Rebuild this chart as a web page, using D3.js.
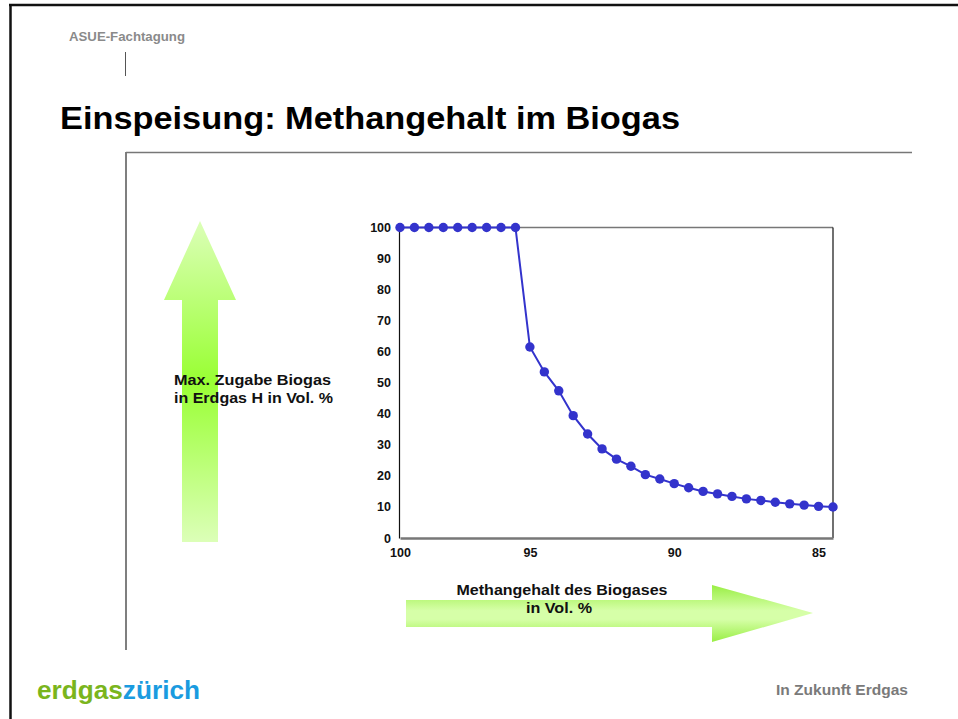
<!DOCTYPE html>
<html><head><meta charset="utf-8">
<script src="https://cdn.jsdelivr.net/npm/d3@7"></script>
<style>html,body{margin:0;padding:0;background:#fff;}svg{display:block;font-family:"Liberation Sans",Arial,Helvetica,sans-serif;}</style>
</head><body>
<script>
// Data
const categories = ["100","99.5","99","98.5","98","97.5","97","96.5","96",
  "95","94.5","94","93.5","93","92.5","92","91.5","91","90.5","90","89.5","89","88.5","88","87.5","87","86.5","86","85.5","85","84.5"];
const values = [100,100,100,100,100,100,100,100,100,
  61.5,53.5,47.4,39.4,33.5,28.7,25.4,23.1,20.4,19.0,17.5,16.2,15.0,14.2,13.4,12.6,12.1,11.5,11.0,10.6,10.2,10.0];
const xTickLabels = ["100","95","90","85"];
const xTickIndex = [0,9,19,29];
const yTicks = [0,10,20,30,40,50,60,70,80,90,100];

(function(){
const W=958,H=719;
const svg=d3.select("body").append("svg").attr("width",W).attr("height",H);

// slide frame
svg.append("line").attr("x1",10.5).attr("x2",10.5).attr("y1",4).attr("y2",H).attr("stroke","#111").attr("stroke-width",2.5);
svg.append("line").attr("x1",9).attr("x2",W).attr("y1",5).attr("y2",5).attr("stroke","#111").attr("stroke-width",2.5);

svg.append("text").attr("x",69).attr("y",41).attr("font-size",13).attr("font-weight","bold").attr("fill","#8a8a8a")
  .attr("textLength",116).attr("lengthAdjust","spacingAndGlyphs").text("ASUE-Fachtagung");
svg.append("line").attr("x1",125.5).attr("x2",125.5).attr("y1",52).attr("y2",76).attr("stroke","#555").attr("stroke-width",1);

svg.append("text").attr("x",60).attr("y",129).attr("font-size",32).attr("font-weight","bold").attr("fill","#000")
  .attr("textLength",620).attr("lengthAdjust","spacingAndGlyphs").text("Einspeisung: Methangehalt im Biogas");

// content frame lines
svg.append("line").attr("x1",126).attr("x2",126).attr("y1",152).attr("y2",650).attr("stroke","#555").attr("stroke-width",1.5);
svg.append("line").attr("x1",126).attr("x2",912).attr("y1",152.5).attr("y2",152.5).attr("stroke","#777").attr("stroke-width",1.5);

// gradients
const defs=svg.append("defs");
const g1=defs.append("linearGradient").attr("id","gUp").attr("x1",0).attr("y1",0).attr("x2",0).attr("y2",1);
g1.append("stop").attr("offset","0%").attr("stop-color","#dcffb8");
g1.append("stop").attr("offset","50%").attr("stop-color","#99ff33");
g1.append("stop").attr("offset","100%").attr("stop-color","#dcffb8");
const g2=defs.append("linearGradient").attr("id","gRight").attr("x1",0).attr("y1",0).attr("x2",0).attr("y2",1);
g2.append("stop").attr("offset","0%").attr("stop-color","#99ee44");
g2.append("stop").attr("offset","45%").attr("stop-color","#d6ffa8");
g2.append("stop").attr("offset","60%").attr("stop-color","#d6ffa8");
g2.append("stop").attr("offset","100%").attr("stop-color","#99ee44");

// up arrow
svg.append("path").attr("d","M182,542 L182,300 L164,300 L200,221 L236,300 L218,300 L218,542 Z").attr("fill","url(#gUp)");
// right arrow
svg.append("path").attr("d","M406,600 L712,600 L712,585 L813,613 L712,642 L712,627 L406,627 Z").attr("fill","url(#gRight)");

const t=(x,y,s,len,anchor)=>svg.append("text").attr("x",x).attr("y",y).attr("font-size",15.5).attr("font-weight","bold").attr("fill","#111")
  .attr("text-anchor",anchor||"start").attr("textLength",len).attr("lengthAdjust","spacingAndGlyphs").text(s);
t(174,385,"Max. Zugabe Biogas",157);
t(174,403,"in Erdgas H in Vol. %",159);
t(562,595,"Methangehalt des Biogases",211,"middle");
t(559,613,"in Vol. %",66,"middle");

// chart
const pL=400,pR=833,pT=227.5,pB=538;
const x=d3.scalePoint().domain(d3.range(categories.length)).range([pL,pR]);
const y=d3.scaleLinear().domain([0,100]).range([pB,pT]);

svg.append("line").attr("x1",pL).attr("x2",pR).attr("y1",pT).attr("y2",pT).attr("stroke","#777").attr("stroke-width",1.5);
svg.append("line").attr("x1",pR).attr("x2",pR).attr("y1",pT).attr("y2",pB).attr("stroke","#111").attr("stroke-width",1.2);

const yAxis=svg.append("g").attr("transform",`translate(${pL-1},0)`).call(d3.axisLeft(y).tickValues(yTicks).tickSize(0).tickPadding(8));
yAxis.select(".domain").attr("stroke","#111").attr("stroke-width",1.2);
yAxis.selectAll("text").attr("font-size",12.5).attr("font-weight","bold").attr("font-family","Liberation Sans,Arial,sans-serif").attr("fill","#111");

const xs=d3.scaleOrdinal().domain(xTickIndex).range(xTickLabels);
const xAxis=svg.append("g").attr("transform",`translate(0,${pB})`).call(d3.axisBottom(x).tickValues(xTickIndex).tickFormat(d=>xs(d)).tickSize(0).tickPadding(10));
xAxis.select(".domain").attr("stroke","#777").attr("stroke-width",2.5);
xAxis.selectAll("text").attr("font-size",12.5).attr("font-weight","bold").attr("font-family","Liberation Sans,Arial,sans-serif").attr("fill","#111");

const line=d3.line().x((d,i)=>x(i)).y(d=>y(d));
svg.append("path").datum(values).attr("d",line).attr("fill","none").attr("stroke","#3333cc").attr("stroke-width",2);
svg.selectAll("circle.pt").data(values).enter().append("circle").attr("class","pt")
  .attr("cx",(d,i)=>x(i)).attr("cy",d=>y(d)).attr("r",4.7).attr("fill","#3333cc");

// footer
const logo=svg.append("text").attr("x",37).attr("y",699).attr("font-size",26).attr("font-weight","bold")
  .attr("textLength",163).attr("lengthAdjust","spacingAndGlyphs");
logo.append("tspan").attr("fill","#7ab51d").text("erdgas");
logo.append("tspan").attr("fill","#1a9be0").text("zürich");
svg.append("text").attr("x",908).attr("y",695).attr("text-anchor","end").attr("font-size",15).attr("font-weight","bold").attr("fill","#7a7a7a")
  .attr("textLength",132).attr("lengthAdjust","spacingAndGlyphs").text("In Zukunft Erdgas");
})();
</script>
</body></html>
